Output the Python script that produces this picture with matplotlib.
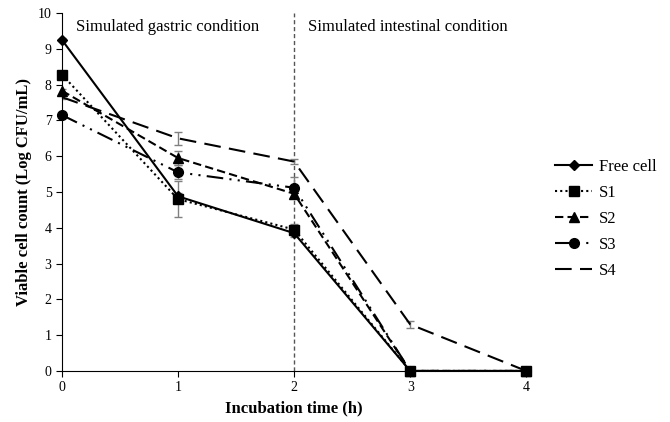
import numpy as np
import matplotlib
matplotlib.use("Agg")
import matplotlib.pyplot as plt

plt.rcParams['font.family'] = ['Liberation Serif', 'DejaVu Serif']

hours = [0, 1, 2, 3, 4]
free_cell = [9.25, 4.88, 3.85, 0, 0]
s1 = [8.28, 4.8, 3.95, 0, 0]
s2 = [7.83, 5.95, 4.95, 0, 0]
s3 = [7.15, 5.55, 5.12, 0, 0]
s4 = [7.65, 6.5, 5.85, 1.3, 0]

err_free = [0.05, 0.1, 0.1, 0, 0]
err_s1 = [0.05, 0.5, 0.15, 0, 0]
err_s2 = [0.05, 0.2, 0.12, 0, 0]
err_s3 = [0.05, 0.2, 0.3, 0, 0]
err_s4 = [0.05, 0.18, 0.08, 0.1, 0]

fig = plt.figure(figsize=(6.7, 4.22), dpi=100)
ax = fig.add_axes([0.0925, 0.121, 0.693, 0.848])

series = [
    ("Free cell", free_cell, err_free, dict(ls='-', marker='D', ms=5)),
    ("S1", s1, err_s1, dict(ls=(0, (1, 1.5)), marker='s', ms=7)),
    ("S2", s2, err_s2, dict(ls=(0, (4, 2)), marker='^', ms=7)),
    ("S3", s3, err_s3, dict(ls=(0, (8, 3, 1, 3, 1, 3)), marker='o', ms=7)),
    ("S4", s4, err_s4, dict(ls=(0, (8, 4)), marker=None)),
]

for name, vals, err, style in series:
    ax.errorbar(hours, vals, yerr=err, fmt='none', ecolor='#808080', elinewidth=1, capsize=3, zorder=2)
for name, vals, err, style in series:
    ax.plot(hours, vals, color='black', lw=1.5, label=name, zorder=3, clip_on=False, **style)

ax.axvline(2, color='#555555', ls=(0, (3, 2)), lw=1, zorder=1)
ax.text(0.12, 9.6, "Simulated gastric condition", fontsize=12, va='center')
ax.text(2.12, 9.6, "Simulated intestinal condition", fontsize=12, va='center')

ax.set_xlim(0, 4)
ax.set_ylim(0, 10)
ax.set_xticks([0, 1, 2, 3, 4])
ax.set_yticks(range(0, 11))
ax.tick_params(direction='out', labelsize=10, length=4)
for s in ['top', 'right']:
    ax.spines[s].set_visible(False)
ax.set_xlabel("Incubation time (h)", fontsize=12, fontweight='bold')
ax.set_ylabel("Viable cell count (Log CFU/mL)", fontsize=12, fontweight='bold')

ax.legend(loc='center left', bbox_to_anchor=(1.03, 0.425), frameon=False, fontsize=12,
          handlelength=2.2, handletextpad=0.4, labelspacing=0.6)

fig.savefig("out.png", dpi=100)
